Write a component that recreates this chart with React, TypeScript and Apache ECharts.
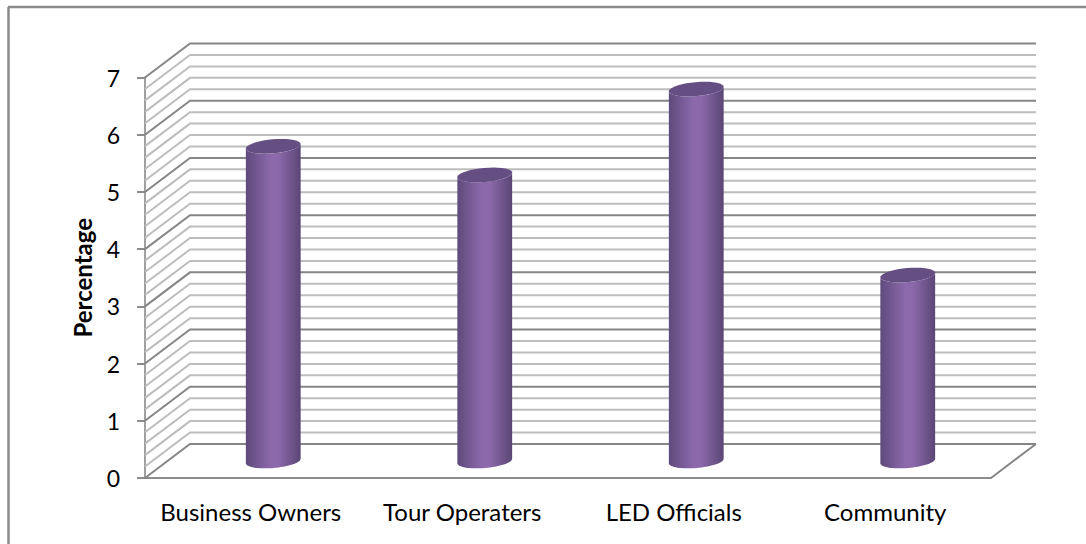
import React, { useEffect, useRef } from "react";
import * as echarts from "echarts";

const categories = ["Business Owners", "Tour Operaters", "LED Officials", "Community"];
const percentages = [5.5, 5, 6.5, 3.25];
const yTicks = [0, 1, 2, 3, 4, 5, 6, 7];

// Depth of the 3D box, in pixels, from the front plane to the back wall.
const DEPTH_X = 45;
const DEPTH_Y = -34;
const GRID_STEP = 0.2;
const CYL_HALF_WIDTH = 27.5;
const CYL_HALF_HEIGHT = 7;
const TILT = (-5 * Math.PI) / 180;

const FONT = "Lato, 'Open Sans', sans-serif";

// Part of a tilted ellipse as a list of points; the right side sits higher.
function arc(cx: number, cy: number, from: number, to: number) {
  const pts: number[][] = [];
  const n = 36;
  for (let i = 0; i <= n; i++) {
    const t = from + ((to - from) * i) / n;
    const ex = CYL_HALF_WIDTH * Math.cos(t);
    const ey = CYL_HALF_HEIGHT * Math.sin(t);
    pts.push([
      cx + ex * Math.cos(TILT) - ey * Math.sin(TILT),
      cy + ex * Math.sin(TILT) + ey * Math.cos(TILT),
    ]);
  }
  return pts;
}

export default function App() {
  const ref = useRef<HTMLDivElement>(null);

  useEffect(() => {
    document.body.style.margin = "0";
    const chart = echarts.init(ref.current!, undefined, { renderer: "svg" });

    const gridLevels: number[] = [];
    for (let i = 0; i <= 35; i++) gridLevels.push(i);

    chart.setOption({
      animation: false,
      backgroundColor: "#ffffff",
      grid: { left: 145, top: 77.5, width: 846, height: 400.5, containLabel: false },
      graphic: [
        {
          type: "line",
          silent: true,
          shape: { x1: 8, y1: 7, x2: 1086, y2: 7 },
          style: { stroke: "#8a8a8a", lineWidth: 2.5 },
        },
        {
          type: "line",
          silent: true,
          shape: { x1: 8.5, y1: 7, x2: 8.5, y2: 544 },
          style: { stroke: "#8a8a8a", lineWidth: 2.5 },
        },
      ],
      xAxis: {
        type: "category",
        data: categories,
        axisTick: { show: false },
        axisLine: { show: true, lineStyle: { color: "#8c8c8c", width: 2 } },
        axisLabel: {
          color: "#000000",
          fontFamily: FONT,
          fontSize: 24,
          margin: 21,
          interval: 0,
          hideOverlap: false,
        },
      },
      yAxis: {
        type: "value",
        min: 0,
        max: 7,
        interval: 1,
        name: "Percentage",
        nameLocation: "middle",
        nameGap: 51,
        nameRotate: 90,
        nameTextStyle: { color: "#000000", fontFamily: FONT, fontSize: 24, fontWeight: "bold" },
        axisLine: { show: true, lineStyle: { color: "#a0a0a0", width: 2 } },
        axisTick: { show: true, length: 8, lineStyle: { color: "#8c8c8c", width: 2 } },
        splitLine: { show: false },
        axisLabel: {
          color: "#000000",
          fontFamily: FONT,
          fontSize: 23,
          margin: 25,
          padding: [4, 0, 0, 0],
          formatter: (v: number) => String(yTicks[v] ?? v),
        },
      },
      series: [
        {
          // Side wall diagonals and back wall rules of the 3D box.
          type: "custom",
          silent: true,
          z: 1,
          data: gridLevels.map((i) => [0, i * GRID_STEP]),
          encode: { x: 0, y: 1 },
          renderItem: (params: any, api: any) => {
            const level = api.value(1) as number;
            const y = api.coord([0, level])[1];
            const left = params.coordSys.x;
            const right = left + params.coordSys.width;
            const major = params.dataIndex % 5 === 0;
            const stroke = major ? "#868686" : "#bdbdbd";
            return {
              type: "polyline",
              shape: {
                points: [
                  [left, y],
                  [left + DEPTH_X, y + DEPTH_Y],
                  [right + DEPTH_X, y + DEPTH_Y],
                ],
              },
              style: { stroke, lineWidth: 2, fill: "none" },
            };
          },
        },
        {
          // Right edge of the floor.
          type: "custom",
          silent: true,
          z: 1,
          data: [[0, 0]],
          encode: { x: 0, y: 1 },
          renderItem: (params: any, api: any) => {
            const y = api.coord([0, 0])[1];
            const right = params.coordSys.x + params.coordSys.width;
            return {
              type: "line",
              shape: { x1: right, y1: y, x2: right + DEPTH_X, y2: y + DEPTH_Y },
              style: { stroke: "#868686", lineWidth: 2 },
            };
          },
        },
        {
          // Cylinders stand in the middle of the floor's depth.
          type: "custom",
          z: 3,
          data: percentages.map((v, i) => [i, v]),
          encode: { x: 0, y: 1 },
          renderItem: (_params: any, api: any) => {
            const base = api.coord([api.value(0), 0]);
            const top = api.coord([api.value(0), api.value(1)]);
            const cx = base[0] + DEPTH_X / 2;
            const by = base[1] + DEPTH_Y / 2;
            const ty = top[1] + DEPTH_Y / 2;
            const body = [...arc(cx, ty, Math.PI, 0), ...arc(cx, by, 0, Math.PI)];
            const lid = arc(cx, ty, 0, Math.PI * 2);
            return {
              type: "group",
              children: [
                {
                  type: "polygon",
                  shape: { points: body },
                  style: {
                    fill: new echarts.graphic.LinearGradient(0, 0, 1, 0, [
                      { offset: 0, color: "#5f4a7c" },
                      { offset: 0.45, color: "#8b69ab" },
                      { offset: 0.6, color: "#8a68a9" },
                      { offset: 1, color: "#5a4675" },
                    ]),
                  },
                },
                {
                  type: "polygon",
                  shape: { points: lid },
                  style: { fill: "#654e82" },
                },
              ],
            };
          },
        },
      ],
    });

    return () => chart.dispose();
  }, []);

  return <div ref={ref} style={{ width: 1086, height: 544 }} />;
}
